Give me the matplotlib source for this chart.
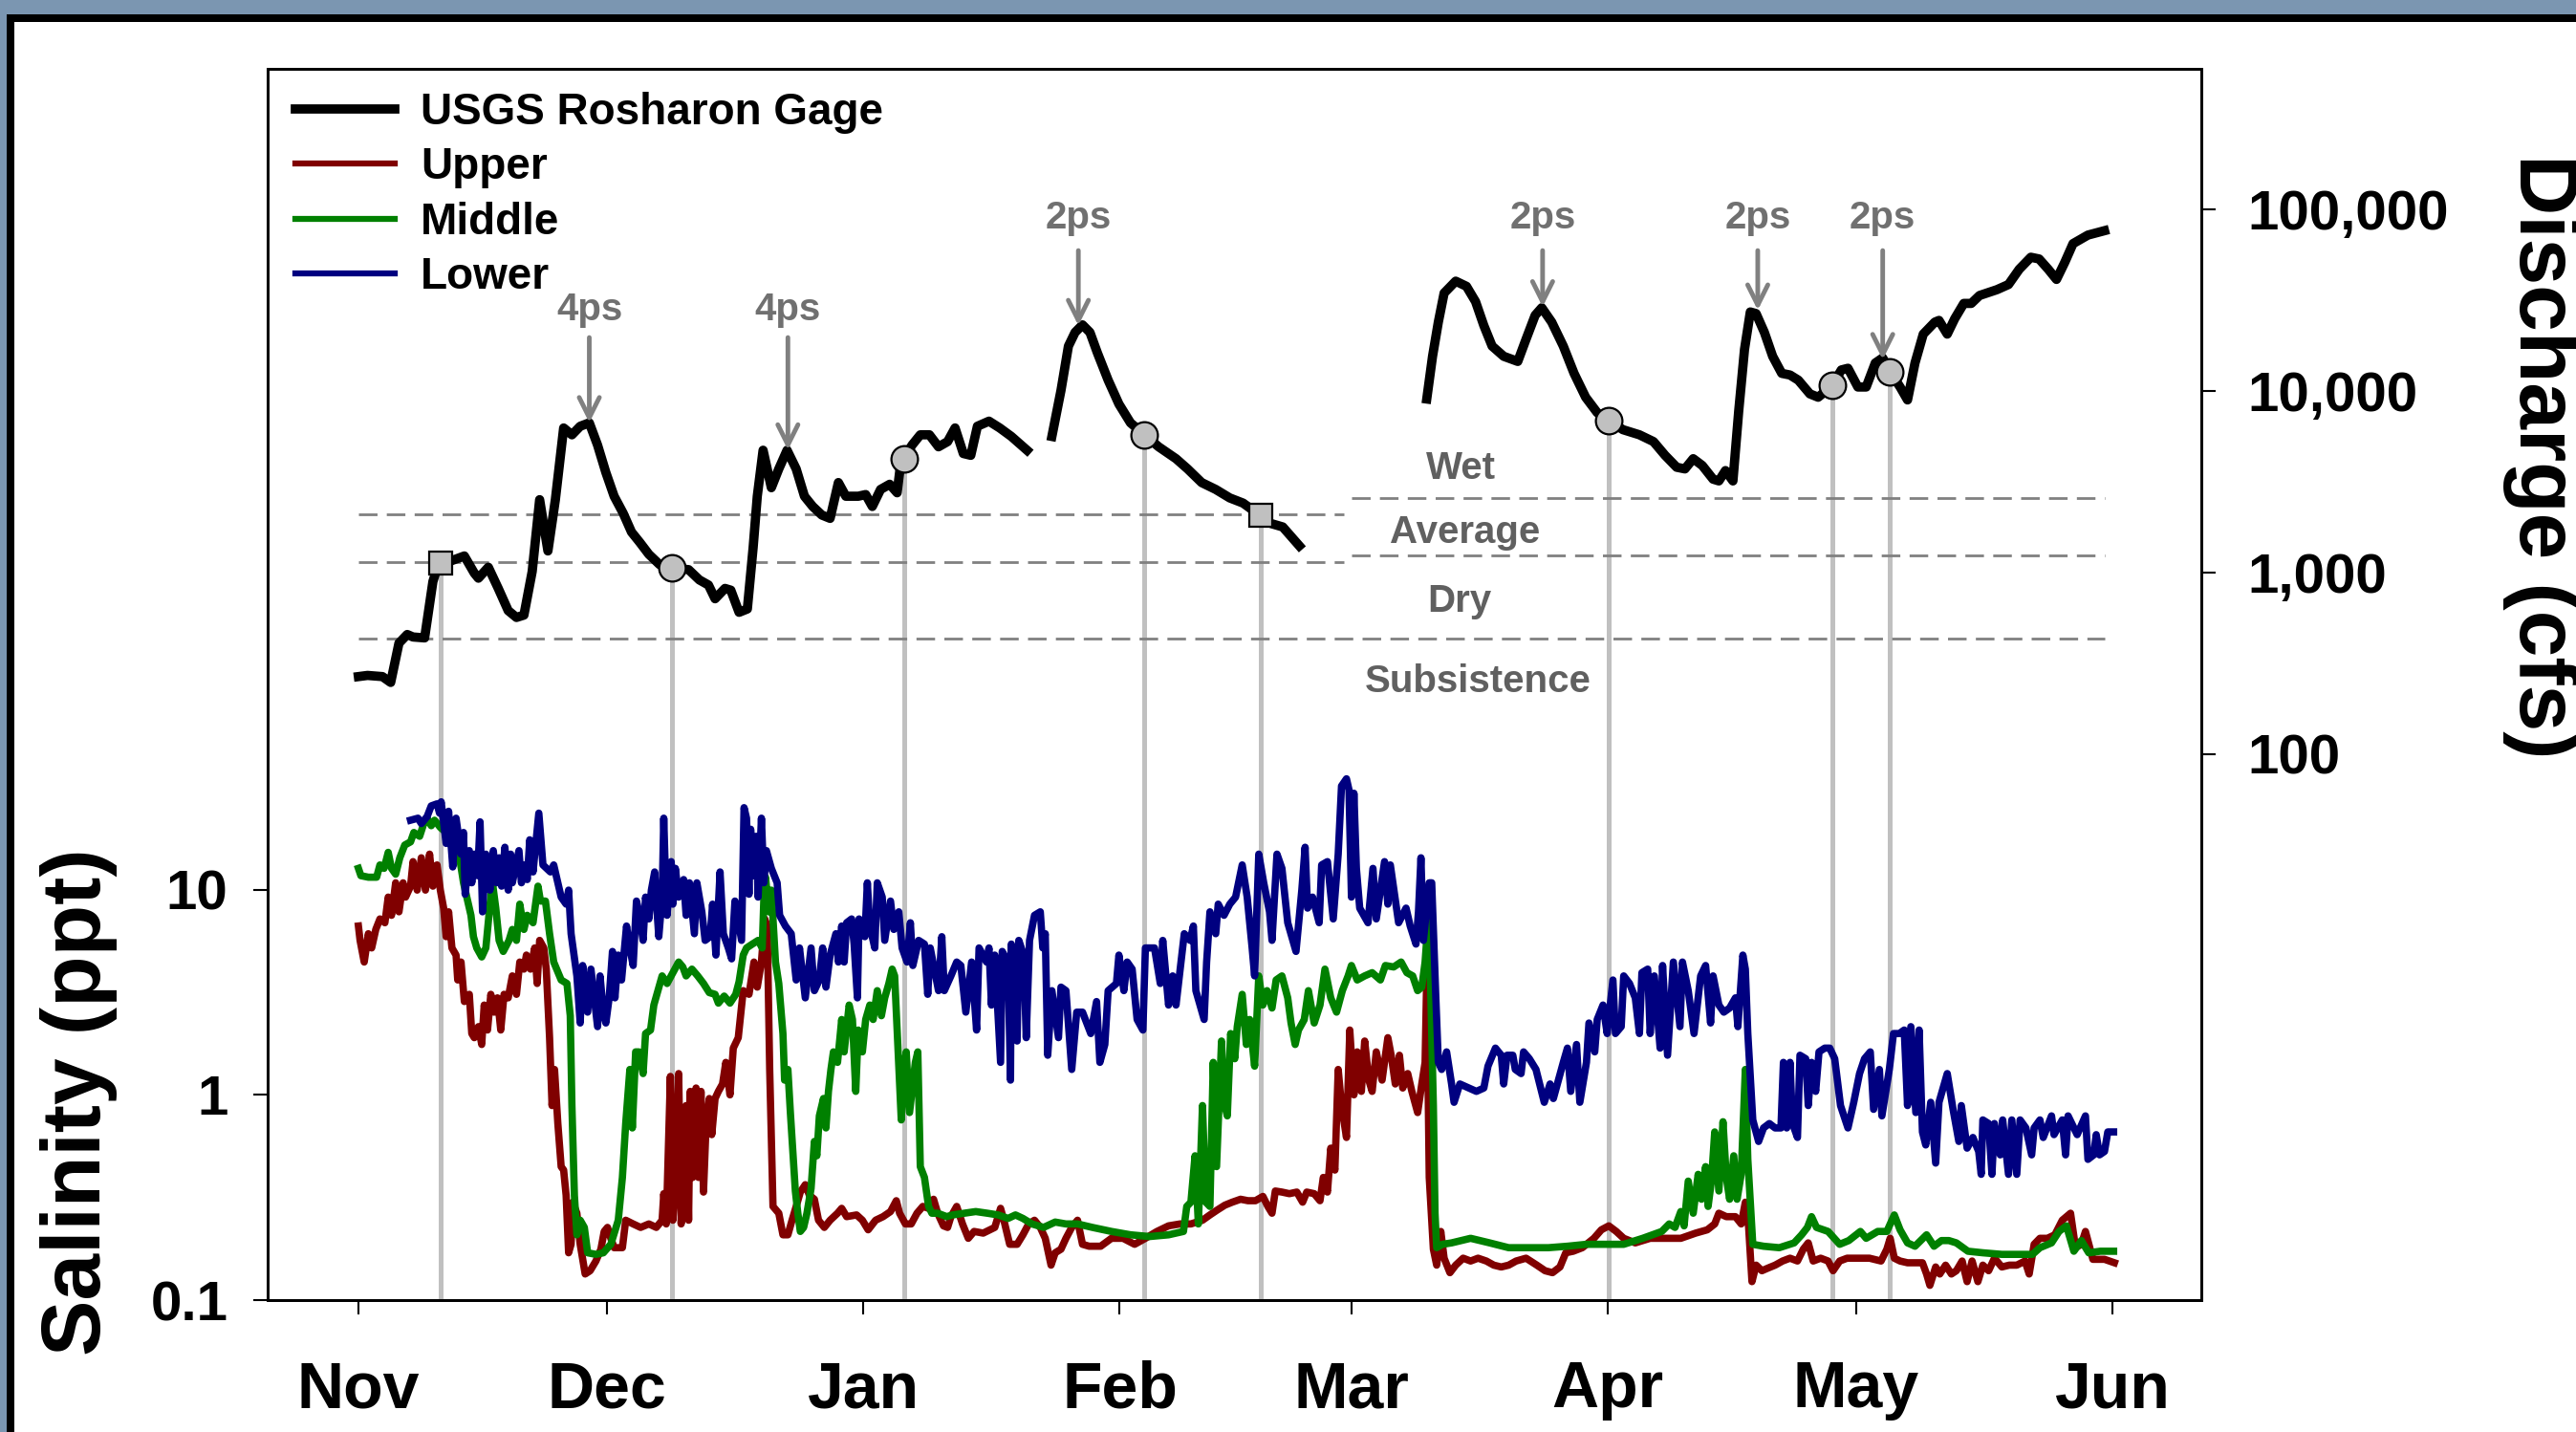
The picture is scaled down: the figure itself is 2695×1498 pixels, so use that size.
import numpy as np
import matplotlib
matplotlib.use('Agg')
import matplotlib.pyplot as plt
from matplotlib.patches import Rectangle
from matplotlib.lines import Line2D
from matplotlib.ticker import NullLocator

plt.rcParams['font.family'] = ['Liberation Sans', 'DejaVu Sans']
plt.rcParams['font.weight'] = 'bold'

# days since Nov 1
month_days = [0, 30, 61, 92, 120, 151, 181, 212]
month_labels = ['Nov', 'Dec', 'Jan', 'Feb', 'Mar', 'Apr', 'May', 'Jun']

# USGS Rosharon gage discharge (cfs), (day, cfs); nan = gap in record
flow_pts = [
    (0.0, 267), (1.1, 271), (2.9, 267), (3.9, 248), (4.9, 408), (5.9, 455), (6.6, 441), (8.0, 436),
    (9.0, 890), (9.7, 1128), (11.1, 1153), (12.8, 1231), (14.0, 991), (14.5, 929), (15.7, 1067),
    (16.9, 816), (18.1, 616), (19.1, 565), (20.0, 582), (21.0, 1012), (21.9, 2512), (22.9, 1312),
    (23.8, 2512), (24.8, 6232), (25.8, 5715), (26.8, 6368), (27.9, 6650), (28.9, 5015), (29.9, 3548),
    (30.9, 2624), (32.0, 2113), (33.0, 1667), (34.0, 1463), (35.1, 1257), (36.4, 1104), (37.9, 1057),
    (39.9, 1035), (41.2, 909), (42.3, 852), (43.1, 716), (44.3, 816), (45.0, 798), (46.0, 603),
    (47.0, 629), (47.7, 1371), (48.2, 2624), (48.9, 4699), (49.9, 2924), (50.8, 3710), (51.8, 4699),
    (52.9, 3710), (53.9, 2624), (54.9, 2305), (56.0, 2068), (57.0, 1982), (58.0, 3120), (58.9, 2624),
    (60.4, 2624), (61.3, 2680), (62.1, 2305), (63.1, 2860), (64.2, 3053), (65.1, 2742), (65.5, 3871),
    (65.9, 4222), (66.9, 5015), (67.9, 5715), (69.0, 5715), (70.1, 4910), (71.2, 5243), (72.1, 6232),
    (73.1, 4508), (74.0, 4406), (74.8, 6368), (76.2, 6792), (77.5, 6232), (78.9, 5597), (80.8, 4699),
    (82.3, np.nan),
    (83.8, 5597), (84.9, 10030), (85.8, 17580), (86.6, 20920), (87.5, 23010), (88.4, 20920),
    (89.3, 16140), (90.6, 11420), (91.9, 8440), (93.3, 6650), (95.0, 5715), (96.7, 4910), (98.8, 4222),
    (100.2, 3710), (101.9, 3120), (103.6, 2860), (105.3, 2568), (106.9, 2406), (108.9, 2068),
    (110.3, 1856), (111.7, 1778), (113.7, 1400),
    (120.0, np.nan),
    (129.1, 8995), (129.8, 15450), (130.5, 23830), (131.2, 34430), (132.6, 40040), (133.9, 37500),
    (135.0, 30890), (136.0, 22800), (137.0, 17580), (138.4, 15450), (140.1, 14480), (141.1, 19190),
    (142.2, 25980), (143.0, 28580), (144.2, 23830), (145.6, 17580), (146.9, 12450), (148.3, 9200),
    (149.7, 7570), (151.1, 6850), (152.8, 6100), (154.8, 5715), (156.5, 5243), (157.9, 4406),
    (159.3, 3789), (160.3, 3710), (161.3, 4222), (162.4, 3871), (163.7, 3258), (164.4, 3186),
    (165.2, 3631), (166.1, 3186), (166.8, 7735), (167.5, 16870), (168.2, 27100), (168.9, 26550),
    (169.9, 20920), (170.9, 15450), (172.0, 12450), (173.0, 12190), (174.0, 11420), (175.4, 9600),
    (176.4, 9200), (177.4, 10030), (178.1, 10700), (179.2, 13000), (180.0, 13280), (181.2, 10470),
    (182.2, 10470), (183.3, 14190), (184.2, 15140), (185.1, 12710), (186.3, 10470), (187.2, 8890),
    (188.1, 14190), (189.1, 20470), (190.5, 23830), (191.0, 24340), (192.0, 20470), (192.9, 24880),
    (194.0, 30200), (194.9, 30200), (195.9, 33390), (198.0, 35940), (199.4, 38370), (200.7, 46580),
    (202.1, 54200), (203.1, 53030), (204.2, 46580), (205.2, 40930), (206.2, 50810), (207.2, 64420),
    (209.0, 71780), (211.0, 75900),
]

# sampling trips on the flow curve
sample_days = [9.9, 37.9, 65.9, 95.0, 109.0, 151.1, 178.1, 185.1]
sample_cfs = [1128, 1057, 4222, 5715, 2068, 6850, 10700, 12710]
sample_square = [True, False, False, False, True, False, False, False]

# pulse events
pulse_days = [27.9, 51.9, 87.0, 143.1, 169.1, 184.2]
pulse_labels = ['4ps', '4ps', '2ps', '2ps', '2ps', '2ps']
pulse_peak_cfs = [6650, 4710, 22800, 28900, 27700, 14800]

# flow regime thresholds (cfs): winter Nov-Feb, spring Mar-May
winter_span = (0, 119.1)
winter_levels = [2085, 1138]
spring_span = (120, 211)
spring_levels = [2550, 1242]
subsistence_level = 430
regime_labels = ['Wet', 'Average', 'Dry', 'Subsistence']
regime_label_days = [133.2, 133.7, 133.1, 135.3]
regime_label_cfs = [3750, 1650, 690, 250]

# salinity (ppt), (day, ppt)
upper_pts = [
    (0.0, 6.65), (0.2, 5.66), (0.7, 4.44), (1.2, 6.1), (1.6, 5.2), (2.1, 6.4), (2.6, 7.2), (3.2, 6.9),
    (3.6, 9.2), (4.0, 7.5), (4.5, 10.8), (4.9, 7.8), (5.4, 10.8), (5.7, 9.2), (6.3, 10.4), (6.6, 13.7),
    (7.1, 9.95), (7.6, 14.3), (8.1, 9.95), (8.6, 14.9), (9.0, 10.4), (9.5, 13.2), (9.9, 9.95),
    (10.3, 8.13), (10.6, 5.9), (10.9, 7.8), (11.3, 5.2), (11.8, 4.8), (12.0, 3.63), (12.4, 4.44),
    (12.8, 2.85), (13.4, 3.09), (13.7, 1.99), (14.0, 1.9), (14.5, 2.15), (14.9, 1.76), (15.2, 2.74),
    (15.6, 2.07), (16.0, 3.09), (16.4, 2.53), (16.8, 2.97), (17.2, 2.07), (17.6, 3.09), (18.1, 2.97),
    (18.6, 3.8), (19.1, 3.09), (19.5, 4.44), (20.0, 4.1), (20.3, 4.8), (20.8, 4.1), (21.3, 5.2),
    (21.6, 3.49), (21.9, 5.66), (22.4, 5.2), (22.7, 4.1), (23.1, 1.9), (23.4, 0.887), (23.7, 1.33),
    (24.1, 0.725), (24.5, 0.447), (24.8, 0.43), (25.1, 0.324), (25.4, 0.17), (25.7, 0.187), (25.9, 0.3),
    (26.4, 0.265), (26.8, 0.187), (27.4, 0.134), (28.0, 0.139), (28.7, 0.155), (29.3, 0.177),
    (29.7, 0.216), (30.1, 0.226), (30.5, 0.2), (30.9, 0.18), (31.9, 0.18), (32.3, 0.245), (33.2, 0.235),
    (34.1, 0.226), (35.1, 0.235), (36.0, 0.226), (36.7, 0.245), (36.9, 0.33), (37.2, 0.235), (37.7, 1.23),
    (38.0, 0.245), (38.3, 0.396), (38.7, 1.27), (39.0, 0.235), (39.3, 0.485), (39.6, 0.887), (39.9, 0.245),
    (40.1, 1.04), (40.4, 0.396), (40.8, 1.08), (41.1, 0.396), (41.4, 1.04), (41.7, 0.336), (42.0, 0.69),
    (42.4, 0.96), (42.7, 0.64), (43.1, 0.96), (43.5, 1.04), (44.0, 1.13), (44.4, 1.44), (44.9, 1.0),
    (45.3, 1.69), (45.9, 1.9), (46.5, 3.22), (47.2, 3.09), (47.8, 4.44), (48.2, 3.35), (48.7, 4.44),
    (49.1, 7.2), (49.4, 6.65), (49.7, 1.33), (50.1, 0.286), (50.8, 0.265), (51.3, 0.208), (51.9, 0.208),
    (52.4, 0.245), (52.9, 0.286), (53.4, 0.336), (54.0, 0.365), (54.5, 0.324), (55.1, 0.31), (55.6, 0.245),
    (56.3, 0.226), (57.0, 0.245), (57.9, 0.265), (58.4, 0.28), (59.0, 0.255), (60.2, 0.26), (60.9, 0.245),
    (61.6, 0.22), (62.5, 0.245), (63.4, 0.255), (64.3, 0.27), (65.0, 0.305), (65.4, 0.265), (66.1, 0.235),
    (66.8, 0.235), (67.5, 0.265), (68.2, 0.286), (68.9, 0.28), (69.5, 0.31), (70.0, 0.265), (70.7, 0.23),
    (71.2, 0.226), (71.6, 0.255), (72.3, 0.286), (73.0, 0.235), (73.7, 0.2), (74.4, 0.216), (75.5, 0.212),
    (76.9, 0.226), (77.6, 0.28), (78.0, 0.245), (78.7, 0.187), (79.6, 0.187), (80.3, 0.208), (81.0, 0.235),
    (81.7, 0.245), (82.4, 0.226), (83.0, 0.2), (83.7, 0.148), (84.2, 0.17), (84.9, 0.177), (85.5, 0.2),
    (86.2, 0.226), (86.9, 0.245), (87.5, 0.187), (88.3, 0.183), (89.7, 0.183), (91.0, 0.2), (92.4, 0.2),
    (93.8, 0.187), (95.1, 0.2), (96.5, 0.216), (97.9, 0.23), (99.3, 0.235), (100.6, 0.235), (102.0, 0.245),
    (102.9, 0.26), (103.8, 0.275), (104.7, 0.29), (105.6, 0.3), (106.6, 0.31), (107.5, 0.305),
    (108.4, 0.305), (109.3, 0.32), (109.9, 0.286), (110.4, 0.265), (110.8, 0.34), (111.6, 0.336),
    (112.5, 0.33), (113.4, 0.336), (114.1, 0.3), (114.6, 0.336), (115.5, 0.33), (116.2, 0.305),
    (116.6, 0.396), (117.1, 0.336), (117.5, 0.55), (118.0, 0.43), (118.4, 1.33), (118.8, 0.887),
    (119.4, 0.62), (119.8, 2.07), (120.3, 1.0), (120.7, 1.62), (121.2, 1.04), (121.6, 1.83), (122.1, 1.18),
    (122.5, 1.04), (123.0, 1.62), (123.7, 1.18), (124.4, 1.9), (124.8, 1.56), (125.3, 1.13), (125.8, 1.56),
    (126.2, 1.08), (126.8, 1.27), (127.3, 1.04), (128.0, 0.82), (128.5, 1.13), (128.9, 1.44), (129.1, 3.8),
    (129.4, 0.396), (129.9, 0.177), (130.3, 0.148), (130.8, 0.216), (131.2, 0.16), (131.9, 0.136),
    (132.6, 0.148), (133.5, 0.16), (134.4, 0.155), (135.3, 0.16), (136.3, 0.155), (137.2, 0.148),
    (138.1, 0.145), (139.0, 0.148), (139.9, 0.155), (141.1, 0.16), (142.4, 0.148), (143.4, 0.139),
    (144.3, 0.136), (145.2, 0.145), (145.9, 0.17), (146.8, 0.173), (147.9, 0.18), (149.3, 0.2),
    (150.2, 0.22), (151.1, 0.23), (152.0, 0.216), (152.9, 0.2), (154.3, 0.19), (156.1, 0.2), (158.0, 0.2),
    (159.8, 0.2), (161.6, 0.212), (163.0, 0.22), (163.9, 0.235), (164.4, 0.265), (165.3, 0.255),
    (166.4, 0.255), (167.1, 0.235), (167.6, 0.3), (168.0, 0.226), (168.4, 0.123), (168.9, 0.148),
    (169.6, 0.139), (170.3, 0.143), (171.2, 0.148), (172.1, 0.155), (173.0, 0.16), (173.9, 0.155),
    (174.6, 0.177), (175.2, 0.19), (175.8, 0.155), (176.7, 0.16), (177.6, 0.155), (178.2, 0.139),
    (179.0, 0.155), (179.9, 0.16), (181.3, 0.16), (182.6, 0.16), (184.0, 0.155), (184.7, 0.177),
    (185.1, 0.2), (185.6, 0.16), (186.3, 0.155), (187.2, 0.152), (189.0, 0.152), (189.5, 0.134),
    (189.9, 0.118), (190.6, 0.145), (191.1, 0.134), (191.8, 0.148), (192.5, 0.134), (193.1, 0.139),
    (193.8, 0.155), (194.4, 0.123), (195.0, 0.155), (195.7, 0.123), (196.3, 0.148), (197.0, 0.139),
    (197.7, 0.16), (198.6, 0.145), (199.5, 0.148), (200.4, 0.148), (201.4, 0.155), (201.9, 0.134),
    (202.5, 0.187), (203.2, 0.2), (204.1, 0.2), (205.0, 0.208), (205.9, 0.245), (206.9, 0.265),
    (207.5, 0.18), (208.2, 0.187), (208.7, 0.216), (209.6, 0.158), (211.0, 0.158), (212.2, 0.152),
]

middle_pts = [
    (0.0, 12.7), (0.3, 11.7), (1.2, 11.5), (2.2, 11.5), (2.6, 13.2), (3.1, 12.7), (3.6, 15.2), (4.0, 12.7),
    (4.5, 11.9), (5.0, 14.3), (5.6, 16.5), (6.3, 17.1), (6.7, 19.0), (7.4, 18.2), (7.9, 21.0), (8.3, 22.3),
    (8.8, 20.5), (9.2, 21.8), (9.9, 20.1), (10.6, 19.0), (11.1, 16.8), (11.8, 14.6), (12.3, 13.7),
    (12.7, 10.8), (13.1, 9.2), (13.6, 7.5), (13.9, 5.9), (14.3, 5.2), (14.9, 4.7), (15.4, 5.2), (15.9, 8.5),
    (16.2, 10.8), (16.6, 8.13), (17.0, 5.66), (17.5, 5.0), (18.2, 5.66), (18.6, 6.4), (19.1, 5.66),
    (19.5, 8.5), (20.0, 6.4), (20.4, 7.5), (21.1, 6.9), (21.7, 10.4), (22.0, 8.8), (22.6, 8.8), (23.1, 6.1),
    (23.6, 4.44), (24.5, 3.63), (25.2, 3.49), (25.6, 2.43), (25.8, 0.887), (26.1, 0.324), (26.4, 0.208),
    (26.8, 0.245), (27.3, 0.226), (27.7, 0.17), (28.7, 0.167), (29.6, 0.17), (30.5, 0.187), (31.4, 0.245),
    (31.9, 0.396), (32.3, 0.725), (32.8, 1.33), (33.1, 0.69), (33.5, 1.62), (33.9, 1.62), (34.4, 1.27),
    (34.7, 1.99), (35.3, 2.07), (35.7, 2.74), (36.2, 3.22), (36.7, 3.8), (37.3, 3.49), (38.0, 3.94),
    (38.7, 4.44), (39.2, 4.2), (39.6, 3.8), (40.3, 4.1), (41.0, 3.8), (41.7, 3.49), (42.4, 3.15),
    (43.1, 3.09), (43.5, 2.8), (44.2, 3.03), (44.9, 2.8), (45.6, 3.09), (46.0, 3.56), (46.5, 4.8),
    (46.9, 5.2), (47.6, 5.43), (48.3, 5.66), (48.8, 5.2), (49.0, 9.2), (49.2, 11.5), (49.6, 7.8),
    (49.9, 9.95), (50.4, 4.44), (50.8, 3.49), (51.3, 1.99), (51.5, 1.18), (51.9, 1.33), (52.2, 0.82),
    (52.5, 0.525), (52.8, 0.34), (53.1, 0.265), (53.4, 0.216), (53.8, 0.226), (54.2, 0.265), (54.7, 0.35),
    (55.1, 0.593), (55.4, 0.505), (55.7, 0.79), (56.2, 0.96), (56.5, 0.69), (56.8, 1.04), (57.1, 1.33),
    (57.4, 1.62), (57.9, 1.44), (58.4, 2.33), (58.7, 1.62), (59.3, 2.74), (59.7, 2.33), (60.1, 1.04),
    (60.4, 2.07), (60.9, 1.62), (61.3, 2.33), (61.8, 2.74), (62.2, 2.33), (62.7, 3.22), (63.2, 2.43),
    (63.6, 2.97), (64.1, 3.49), (64.5, 4.1), (64.8, 3.8), (65.2, 1.69), (65.6, 0.755), (65.9, 1.33),
    (66.2, 1.62), (66.6, 0.82), (67.0, 1.13), (67.3, 1.44), (67.6, 1.62), (67.9, 0.447), (68.4, 0.396),
    (68.9, 0.286), (69.3, 0.265), (70.0, 0.265), (71.1, 0.255), (71.8, 0.26), (73.2, 0.265), (74.6, 0.27),
    (76.0, 0.265), (77.3, 0.26), (78.5, 0.25), (79.4, 0.26), (80.3, 0.25), (81.4, 0.235), (82.8, 0.226),
    (84.2, 0.24), (85.5, 0.235), (86.9, 0.235), (88.7, 0.226), (91.0, 0.216), (93.3, 0.208), (95.6, 0.204),
    (97.9, 0.208), (99.7, 0.216), (100.1, 0.286), (100.6, 0.3), (101.1, 0.505), (101.5, 0.235),
    (102.0, 0.887), (102.4, 0.3), (102.9, 0.286), (103.3, 1.44), (103.7, 0.447), (104.3, 1.83),
    (104.6, 0.92), (105.0, 0.79), (105.4, 1.99), (105.9, 1.5), (106.2, 2.15), (106.8, 3.09), (107.3, 1.76),
    (107.7, 2.33), (108.3, 1.38), (108.8, 3.8), (109.3, 2.74), (109.8, 3.22), (110.4, 2.65), (110.9, 3.63),
    (111.6, 3.8), (112.3, 2.97), (112.7, 2.24), (113.2, 1.76), (113.6, 2.07), (114.3, 2.33), (114.8, 3.22),
    (115.5, 2.24), (116.2, 2.74), (116.8, 4.1), (117.5, 2.97), (118.2, 2.53), (118.9, 3.22), (119.6, 3.8),
    (120.0, 4.27), (120.7, 3.63), (121.6, 3.8), (122.5, 3.94), (123.5, 3.63), (124.1, 4.27), (125.1, 4.2),
    (126.0, 4.44), (126.7, 3.94), (127.4, 3.8), (128.0, 3.22), (128.5, 3.35), (128.9, 4.44), (129.3, 7.5),
    (129.5, 4.44), (129.9, 0.887), (130.1, 0.265), (130.3, 0.18), (131.0, 0.187), (132.1, 0.19),
    (134.4, 0.2), (136.7, 0.19), (139.0, 0.18), (140.8, 0.18), (143.8, 0.18), (146.1, 0.183),
    (148.4, 0.187), (150.7, 0.187), (152.9, 0.187), (155.2, 0.2), (157.5, 0.216), (158.4, 0.235),
    (159.1, 0.226), (159.8, 0.27), (160.2, 0.23), (160.7, 0.38), (161.3, 0.265), (161.9, 0.41),
    (162.3, 0.31), (162.8, 0.447), (163.1, 0.286), (163.5, 0.38), (163.9, 0.66), (164.4, 0.34),
    (164.9, 0.74), (165.3, 0.396), (165.7, 0.31), (166.2, 0.505), (166.6, 0.31), (167.1, 0.41),
    (167.6, 1.33), (167.9, 0.485), (168.5, 0.187), (169.8, 0.183), (171.7, 0.18), (173.5, 0.19),
    (174.4, 0.208), (175.1, 0.226), (175.6, 0.255), (176.2, 0.226), (177.6, 0.216), (179.0, 0.187),
    (180.1, 0.195), (181.5, 0.216), (182.2, 0.2), (183.6, 0.216), (184.7, 0.216), (185.6, 0.26),
    (186.3, 0.22), (187.2, 0.19), (188.1, 0.183), (189.5, 0.208), (190.4, 0.183), (191.3, 0.195),
    (192.2, 0.195), (193.1, 0.19), (194.5, 0.173), (196.3, 0.17), (198.6, 0.167), (200.9, 0.167),
    (202.3, 0.167), (203.2, 0.18), (204.6, 0.19), (205.5, 0.216), (206.4, 0.23), (207.3, 0.173),
    (208.2, 0.195), (209.1, 0.17), (210.5, 0.173), (212.1, 0.173),
]

lower_pts = [
    (6.3, 21.8), (7.2, 22.3), (7.6, 21.0), (8.3, 22.7), (8.8, 25.6), (9.5, 26.2), (9.8, 23.6), (10.0, 26.8),
    (10.6, 16.8), (10.9, 24.1), (11.4, 12.9), (11.8, 22.3), (12.4, 14.9), (12.7, 19.0), (12.9, 9.5),
    (13.4, 15.5), (13.7, 10.8), (14.0, 14.9), (14.4, 11.7), (14.7, 21.4), (15.0, 7.8), (15.4, 14.9),
    (15.9, 9.95), (16.3, 15.5), (16.7, 10.8), (17.0, 14.3), (17.3, 10.4), (17.7, 16.1), (18.1, 9.95),
    (18.4, 14.9), (18.6, 10.8), (19.4, 15.5), (19.7, 10.8), (20.1, 13.2), (20.4, 11.2), (20.7, 17.5),
    (21.1, 12.2), (21.8, 23.6), (22.3, 13.2), (23.2, 12.2), (23.6, 13.2), (24.5, 9.2), (25.1, 8.5),
    (25.4, 9.95), (25.7, 6.1), (26.4, 3.8), (26.8, 2.24), (27.1, 4.27), (27.7, 2.53), (28.1, 4.1),
    (28.9, 2.15), (29.2, 3.8), (29.6, 2.53), (29.9, 2.24), (30.3, 2.97), (30.7, 5.0), (31.0, 2.97),
    (31.4, 4.8), (31.8, 3.63), (32.4, 6.65), (32.8, 5.2), (33.2, 4.27), (33.6, 8.8), (33.9, 7.8),
    (34.4, 5.66), (34.7, 9.2), (35.1, 7.2), (35.4, 9.95), (35.8, 12.2), (36.0, 8.8), (36.3, 5.9),
    (36.7, 9.2), (36.9, 22.3), (37.1, 11.7), (37.3, 7.5), (37.8, 13.7), (38.0, 8.5), (38.3, 12.7),
    (38.7, 9.2), (39.3, 11.2), (39.6, 7.5), (40.0, 10.8), (40.6, 6.1), (40.9, 10.8), (41.5, 7.8),
    (41.9, 5.66), (42.5, 5.9), (42.8, 8.5), (43.2, 4.8), (43.7, 12.2), (44.1, 6.1), (44.7, 5.2),
    (45.1, 4.6), (45.5, 8.8), (46.3, 5.66), (46.6, 25.1), (46.9, 22.3), (47.2, 9.5), (47.4, 19.7),
    (47.8, 11.7), (48.1, 18.2), (48.3, 9.2), (48.7, 22.3), (49.0, 10.8), (49.3, 15.5), (49.9, 12.7),
    (50.6, 10.8), (50.9, 7.5), (51.6, 6.65), (52.3, 6.1), (52.9, 3.63), (53.3, 5.2), (54.0, 2.97),
    (54.7, 5.2), (55.1, 3.22), (55.7, 3.63), (56.1, 5.2), (56.5, 3.35), (57.0, 4.8), (57.7, 6.1),
    (58.0, 4.44), (58.4, 6.65), (58.7, 4.44), (59.0, 6.9), (59.6, 7.2), (59.9, 5.43), (60.3, 2.97),
    (60.5, 7.2), (61.2, 5.9), (61.5, 10.8), (61.8, 6.65), (62.4, 5.2), (62.7, 10.8), (63.3, 9.2),
    (63.6, 5.66), (64.3, 8.8), (64.7, 6.4), (65.3, 7.8), (65.7, 5.2), (66.3, 4.44), (66.7, 6.9),
    (67.0, 4.27), (67.7, 5.66), (68.4, 5.43), (68.8, 3.09), (69.1, 5.2), (70.1, 3.22), (70.5, 5.9),
    (70.8, 3.22), (71.6, 3.8), (72.3, 4.44), (72.8, 4.27), (73.4, 2.53), (74.1, 4.44), (74.7, 2.07),
    (75.0, 5.2), (75.9, 4.44), (76.2, 5.2), (76.5, 2.74), (76.9, 4.8), (77.6, 1.44), (77.8, 5.0),
    (78.5, 4.44), (78.8, 1.18), (78.9, 5.43), (79.6, 1.83), (79.8, 5.66), (80.4, 4.8), (80.7, 1.9),
    (81.1, 5.66), (81.7, 7.5), (82.4, 7.8), (82.7, 5.2), (83.0, 6.1), (83.3, 1.56), (83.8, 3.22),
    (84.6, 1.9), (84.9, 3.35), (85.5, 3.22), (86.2, 1.33), (86.8, 2.53), (87.5, 2.53), (88.5, 1.99),
    (89.2, 2.85), (89.6, 1.44), (90.2, 1.76), (90.6, 3.22), (91.6, 3.49), (91.9, 4.8), (92.5, 3.22),
    (92.9, 4.44), (93.5, 4.1), (94.1, 2.33), (94.8, 2.07), (95.1, 5.2), (96.2, 5.2), (96.9, 3.49),
    (97.2, 5.66), (97.9, 2.74), (98.4, 3.8), (98.8, 2.74), (99.8, 6.1), (100.5, 5.66), (100.9, 6.65),
    (101.2, 3.22), (102.2, 2.33), (102.5, 4.44), (102.9, 7.8), (103.6, 6.1), (103.9, 8.5), (104.6, 7.5),
    (105.3, 8.5), (106.0, 9.2), (106.8, 13.2), (107.4, 9.2), (108.0, 5.2), (108.3, 3.8), (108.8, 14.9),
    (109.4, 10.8), (110.1, 7.8), (110.4, 5.66), (111.0, 14.9), (111.6, 12.7), (112.3, 6.9), (113.3, 5.0),
    (114.0, 9.95), (114.4, 16.1), (114.7, 8.13), (115.3, 9.2), (116.1, 6.9), (116.4, 13.2), (117.1, 13.7),
    (117.8, 7.2), (118.4, 14.9), (118.8, 32.0), (119.4, 34.7), (119.7, 30.7), (120.0, 9.2), (120.3, 29.5),
    (120.6, 12.7), (121.0, 8.13), (122.0, 6.9), (122.6, 12.7), (123.0, 7.2), (124.0, 13.7), (124.4, 8.5),
    (124.7, 13.2), (125.7, 6.9), (126.6, 8.13), (127.1, 6.65), (127.8, 5.43), (128.1, 7.8), (128.4, 14.3),
    (128.7, 5.66), (129.4, 10.8), (129.7, 10.8), (130.2, 2.97), (130.5, 1.44), (130.9, 1.33), (131.5, 1.62),
    (132.1, 1.13), (132.4, 0.92), (133.1, 1.13), (134.2, 1.08), (135.1, 1.04), (136.0, 1.08), (136.5, 1.38),
    (137.4, 1.69), (138.1, 1.56), (138.4, 1.13), (138.8, 1.56), (139.5, 1.56), (139.8, 1.33), (140.5, 1.27),
    (140.8, 1.62), (141.5, 1.5), (142.3, 1.33), (143.3, 0.92), (144.0, 1.13), (144.4, 0.96), (145.6, 1.44),
    (146.1, 1.69), (146.5, 1.04), (147.2, 1.76), (147.6, 0.92), (148.4, 1.44), (148.7, 2.24), (149.4, 1.62),
    (149.7, 2.33), (150.4, 2.74), (150.9, 1.99), (151.6, 3.63), (151.9, 1.99), (152.6, 2.15), (152.9, 3.8),
    (153.6, 3.49), (154.3, 2.97), (154.8, 1.99), (155.1, 3.94), (155.8, 4.1), (156.1, 1.99), (156.6, 3.8),
    (157.3, 1.69), (157.6, 4.27), (158.2, 1.56), (158.9, 4.44), (159.7, 2.15), (160.0, 4.44), (160.7, 3.22),
    (161.4, 1.99), (162.2, 3.8), (162.8, 4.27), (163.4, 2.24), (163.7, 3.8), (164.4, 2.74), (165.0, 2.53),
    (165.7, 2.65), (166.4, 2.97), (166.7, 2.15), (167.3, 4.8), (167.6, 4.1), (167.9, 1.99), (168.5, 0.755),
    (169.2, 0.593), (169.8, 0.69), (170.5, 0.725), (171.2, 0.69), (171.9, 0.69), (172.2, 1.44), (172.6, 0.69),
    (173.0, 1.44), (173.3, 0.725), (173.9, 0.62), (174.2, 1.56), (174.9, 1.5), (175.2, 0.887), (175.6, 1.44),
    (176.1, 1.04), (176.5, 1.62), (177.2, 1.69), (177.8, 1.69), (178.4, 1.5), (179.1, 0.887), (180.0, 0.69),
    (180.7, 0.92), (181.4, 1.27), (182.0, 1.5), (182.7, 1.62), (183.1, 0.85), (183.8, 1.33), (184.1, 0.79),
    (185.0, 1.33), (185.5, 1.99), (186.2, 1.99), (186.8, 2.07), (187.2, 0.887), (187.6, 2.15), (188.2, 0.82),
    (188.6, 2.07), (189.0, 0.66), (189.4, 0.57), (190.0, 0.92), (190.6, 0.465), (191.0, 0.92), (192.0, 1.27),
    (192.7, 0.85), (193.4, 0.593), (193.7, 0.887), (194.4, 0.55), (195.1, 0.62), (195.8, 0.53), (196.1, 0.41),
    (196.3, 0.755), (197.0, 0.725), (197.4, 0.41), (197.7, 0.725), (198.4, 0.51), (198.7, 0.755),
    (199.4, 0.41), (199.8, 0.755), (200.4, 0.41), (200.8, 0.755), (201.5, 0.69), (202.2, 0.51), (202.5, 0.69),
    (203.2, 0.755), (203.6, 0.62), (204.6, 0.79), (204.9, 0.64), (205.9, 0.755), (206.3, 0.51), (206.6, 0.79),
    (207.7, 0.64), (208.7, 0.79), (209.0, 0.485), (209.7, 0.51), (210.0, 0.64), (210.4, 0.51), (211.0, 0.53),
    (211.4, 0.66), (212.1, 0.66),
]

W, H = 2695, 1498
fig = plt.figure(figsize=(W / 100, H / 100), dpi=100)
fig.patch.set_facecolor('#7b96b1')
fig.add_artist(Rectangle((7 / W, -0.05), 1.0, 1.05 - 15 / H, transform=fig.transFigure,
                         facecolor='black', edgecolor='none', zorder=-20))
fig.add_artist(Rectangle((15 / W, -0.05), 1.0, 1.05 - 23 / H, transform=fig.transFigure,
                         facecolor='white', edgecolor='none', zorder=-19))

ax = fig.add_axes([280 / W, 1 - 1360 / H, (2303 - 280) / W, (1360 - 72) / H])
ax2 = ax.twinx()
ax.set_zorder(ax2.get_zorder() + 1)
ax.patch.set_visible(False)

# discharge axis (right)
ax2.set_yscale('log')
ax2.set_ylim(0.099, 5.9e5)
ax2.vlines(sample_days, 0.099, sample_cfs, color='#c0c0c0', lw=3.6, zorder=1)
dash = (0, (7, 3.5))
ax2.hlines(winter_levels, *winter_span, color='#808080', lw=2, linestyle=dash, zorder=2)
ax2.hlines(spring_levels, *spring_span, color='#808080', lw=2, linestyle=dash, zorder=2)
ax2.hlines(subsistence_level, winter_span[0], spring_span[1], color='#808080', lw=2, linestyle=dash, zorder=2)
for lab, d, q in zip(regime_labels, regime_label_days, regime_label_cfs):
    ax2.text(d, q, lab, ha='center', va='center', color='#606060', fontsize=29)

flow = np.array(flow_pts)
ax2.plot(flow[:, 0], flow[:, 1], color='black', lw=7, solid_joinstyle='round', zorder=3)
for d, q, sq in zip(sample_days, sample_cfs, sample_square):
    ax2.plot(d, q, marker='s' if sq else 'o', ms=17 if sq else 20, mfc='#c0c0c0',
             mec='black', mew=1.6, zorder=4)

label_cfs = {'4ps': 28000, '2ps': 89000}
arrow_top = {'4ps': 19600, '2ps': 59000}
for d, lab, q in zip(pulse_days, pulse_labels, pulse_peak_cfs):
    ax2.annotate('', xy=(d, q), xytext=(d, arrow_top[lab]),
                 arrowprops=dict(arrowstyle='->', color='#808080', lw=3.5, mutation_scale=38,
                                 shrinkA=0, shrinkB=0), zorder=5)
    ax2.text(d, label_cfs[lab], lab, ha='center', va='center', color='#707070', fontsize=29)

ax2.set_yticks([100, 1000, 10000, 100000])
ax2.set_yticklabels(['100', '1,000', '10,000', '100,000'])
ax2.yaxis.set_minor_locator(NullLocator())
ax2.tick_params(axis='y', direction='out', length=11, width=1.5, pad=24, labelsize=42)

# salinity axis (left)
ax.set_yscale('log')
ax.set_ylim(0.1, 1e5)
up = np.array(upper_pts)
mid = np.array(middle_pts)
low = np.array(lower_pts)
ax.plot(up[:, 0], up[:, 1], color='#800000', lw=5.5)
ax.plot(mid[:, 0], mid[:, 1], color='#008000', lw=5.5)
ax.plot(low[:, 0], low[:, 1], color='#000080', lw=5.5)
ax.set_yticks([0.1, 1, 10])
ax.set_yticklabels(['0.1', '1', '10'])
ax.yaxis.set_minor_locator(NullLocator())
ax.tick_params(axis='y', direction='out', length=11, width=1.5, pad=19, labelsize=42)

ax.set_xlim(-10.97, 222.7)
ax.set_xticks(month_days)
ax.set_xticklabels(month_labels)
ax.tick_params(axis='x', direction='out', length=11, width=1.5, pad=34, labelsize=49)

for a in (ax, ax2):
    for s in a.spines.values():
        s.set_linewidth(2)

handles = [Line2D([], [], color='black', lw=7),
           Line2D([], [], color='#800000', lw=4.5),
           Line2D([], [], color='#008000', lw=4.5),
           Line2D([], [], color='#000080', lw=4.5)]
ax.legend(handles, ['USGS Rosharon Gage', 'Upper', 'Middle', 'Lower'], loc='upper left',
          bbox_to_anchor=(309 / W, 1 - 96 / H), bbox_transform=fig.transFigure, frameon=False,
          fontsize=33, handlelength=2.27, handletextpad=0.59, labelspacing=0.29,
          borderpad=0, borderaxespad=0)

fig.text(83 / W, 1 - 1153 / H, 'Salinity (ppt)', rotation=90, ha='center', va='center', fontsize=63)
fig.text(2658 / W, 1 - 477 / H, 'Discharge (cfs)', rotation=270, ha='center', va='center', fontsize=63)

fig.savefig('out.png', dpi=100, facecolor=fig.get_facecolor())
